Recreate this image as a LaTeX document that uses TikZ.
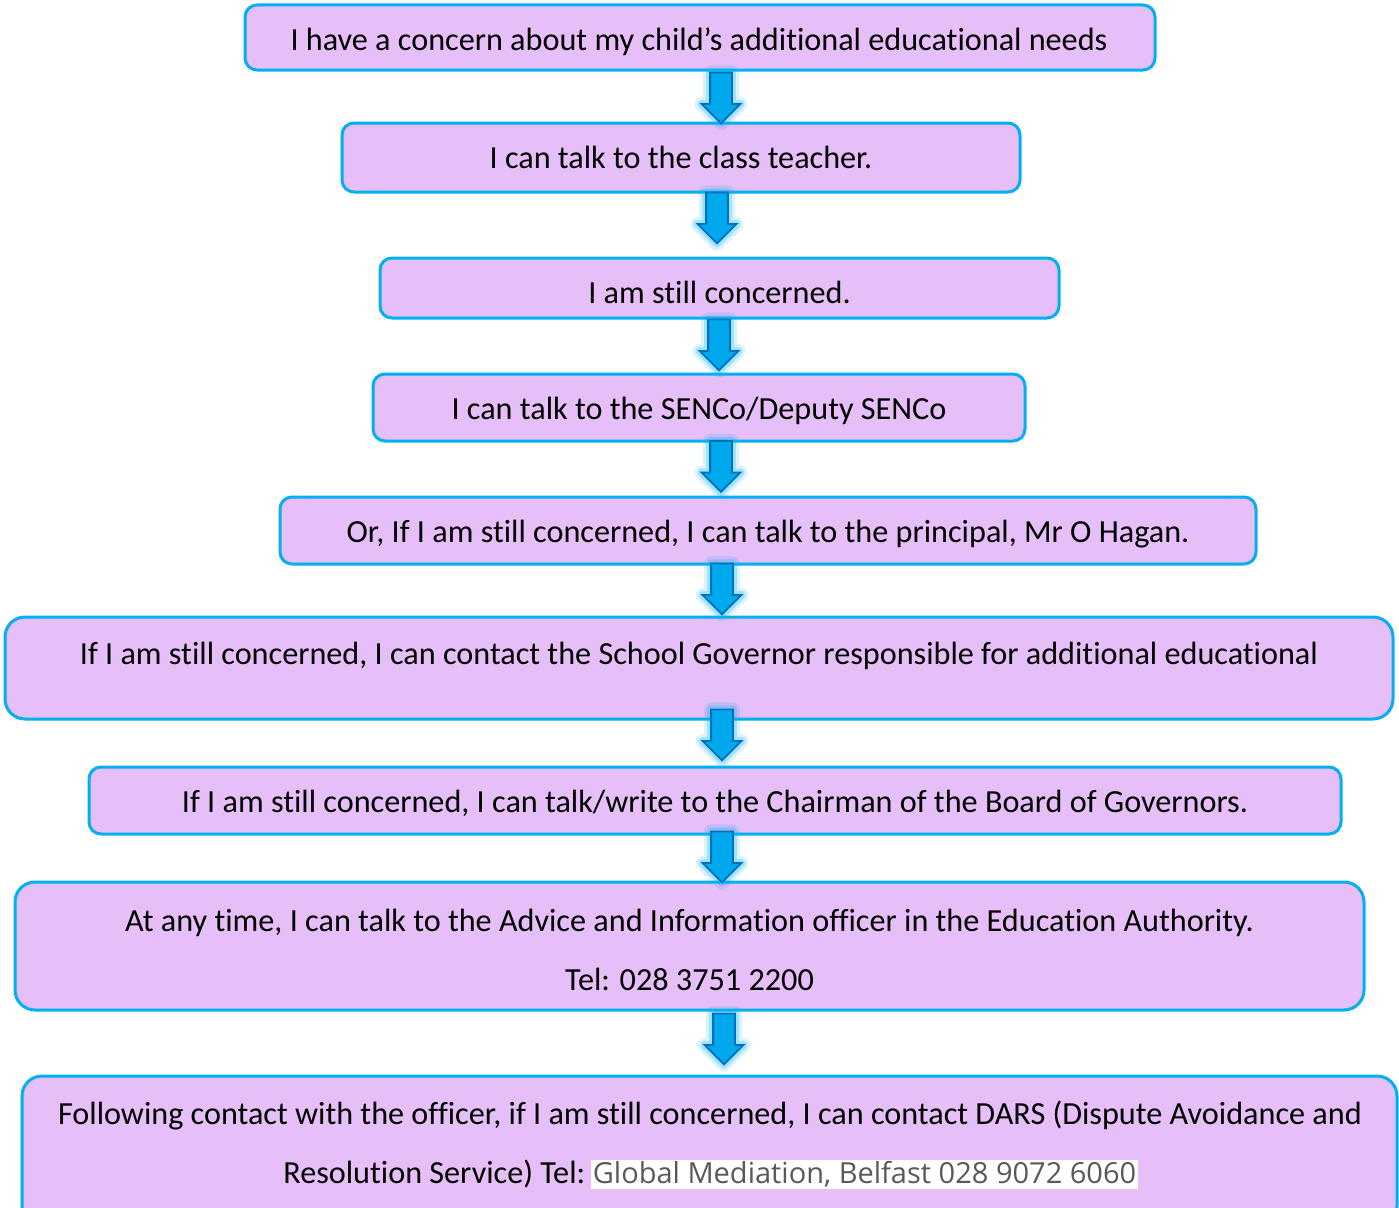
\documentclass[tikz,border=0pt]{standalone}
\usepackage{fontspec}
\setmainfont{Carlito}[Ligatures=NoCommon]
\newfontfamily\greyfont{Open Sans}
\usetikzlibrary{shapes.arrows}
\definecolor{boxfill}{HTML}{E6BEF8}
\definecolor{boxline}{HTML}{00B0F0}
\definecolor{arrfill}{HTML}{00A8EE}
\definecolor{arrline}{HTML}{0070C0}
\definecolor{greytext}{HTML}{595959}
\begin{document}
\begin{tikzpicture}[x=1pt,y=-1pt,
  box/.style={draw=boxline, line width=3pt, fill=boxfill, rounded corners=12pt, inner sep=0pt},
  bigbox/.style={box, rounded corners=20pt},
  txt/.style={font=\fontsize{32.2}{38}\selectfont, inner sep=0pt, anchor=base},
  darrow/.style={single arrow, rotate=-90, draw=arrline, fill=arrfill, line width=1.8pt,
    inner xsep=0pt, inner ysep=10pt, single arrow head extend=8.5pt, minimum height=51pt,
    preaction={draw=boxline, draw opacity=0.15, line width=14pt, line join=round},
    preaction={draw=boxline, draw opacity=0.25, line width=8pt, line join=round}},
]
\useasboundingbox (0,0) rectangle (1399,1207);
\clip (0,0) rectangle (1399,1207);

\node[box, minimum width=910pt, minimum height=65pt] (b1) at (700,37.5) {};
\node[txt] (t1) at (699,51) {I have a concern about my child’s additional educational needs};

\node[box, minimum width=678pt, minimum height=69pt] (b2) at (681,157.5) {};
\node[txt] (t2) at (681,168.5) {I can talk to the class teacher.};

\node[box, minimum width=679pt, minimum height=60pt] (b3) at (719.5,288) {};
\node[txt] (t3) at (719.5,303.5) {I am still concerned.};

\node[box, minimum width=652pt, minimum height=67pt] (b4) at (699,407.5) {};
\node[txt] (t4) at (699,419.5) {I can talk to the SENCo/Deputy SENCo};

\node[box, minimum width=976pt, minimum height=67pt] (b5) at (768,530.5) {};
\node[txt] (t5) at (768,542.5) {Or, If I am still concerned, I can talk to the principal, Mr O Hagan.};

\node[bigbox, minimum width=1388pt, minimum height=102pt] (b6) at (699,668) {};
\node[txt] (t6) at (699,664.5) {If I am still concerned, I can contact the School Governor responsible for additional educational};

\node[box, minimum width=1252pt, minimum height=67pt] (b7) at (715,800.5) {};
\node[txt] (t7) at (715,812.5) {If I am still concerned, I can talk/write to the Chairman of the Board of Governors.};

\node[bigbox, minimum width=1349pt, minimum height=128pt] (b8) at (689.5,946) {};
\node[txt] (t8a) at (689.5,931.5) {At any time, I can talk to the Advice and Information officer in the Education Authority.};
\node[txt] (t8b) at (689.5,990.5) {Tel: 028 3751 2200};

\node[bigbox, minimum width=1375pt, minimum height=150pt] (b9) at (709.5,1151) {};
\node[txt] (t9a) at (710,1124.5) {Following contact with the officer, if I am still concerned, I can contact DARS (Dispute Avoidance and};
\node[txt] (t9b) at (710.5,1183.5) {Resolution Service) Tel:\hspace{6pt}{\setlength{\fboxsep}{1.5pt}\colorbox{white}{\greyfont\fontsize{29}{34}\selectfont\color{greytext}Global Mediation, Belfast 028 9072 6060}}};

\node[darrow] (a1) at (721,92.5) {};
\node[darrow] (a2) at (717,212.5) {};
\node[darrow] (a3) at (719,339.5) {};
\node[darrow] (a4) at (721,461) {};
\node[darrow] (a5) at (722,583.5) {};
\node[darrow] (a6) at (722,729.5) {};
\node[darrow] (a7) at (722,851.5) {};
\node[darrow] (a8) at (724,1033.5) {};
\end{tikzpicture}
\end{document}
